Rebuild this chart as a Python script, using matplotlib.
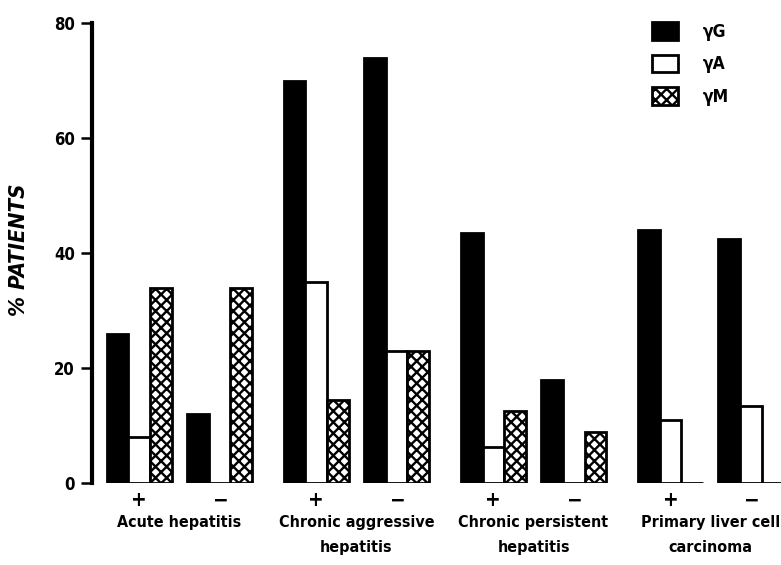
import os
import numpy as np
import matplotlib
matplotlib.use("Agg")
import matplotlib.pyplot as plt
from matplotlib.patches import Patch
from matplotlib import font_manager as fm

groups = ["Acute hepatitis", "Chronic aggressive\nhepatitis",
          "Chronic persistent\nhepatitis", "Primary liver cell\ncarcinoma"]
signs = ["+", "\u2212"]
series = ["\u03b3G", "\u03b3A", "\u03b3M"]

# order: group1 +, group1 -, group2 +, ...
igg = [26, 12, 70, 74, 43.5, 18, 44, 42.5]
iga = [8, 0, 35, 23, 6.3, 0, 11, 13.5]
igm = [34, 34, 14.5, 23, 12.5, 9, 0, 0]


def pick_font(italic=False):
    # narrowest bold face that is around, else Roboto
    for path in sorted(fm.findSystemFonts()):
        name = os.path.basename(path).lower()
        if not ("narrow" in name or "condensed" in name):
            continue
        if "bold" not in name:
            continue
        slanted = "italic" in name or "oblique" in name
        if slanted == italic:
            return path, True
    return None, False


bold_path, narrow = pick_font()
ital_path, _ = pick_font(italic=True)


def fp(size, italic=False):
    path = ital_path if italic else bold_path
    if path:
        return fm.FontProperties(fname=path, size=size)
    return fm.FontProperties(family=["Roboto", "DejaVu Sans"], weight="bold",
                             style="italic" if italic else "normal", size=size)


k = 1.0 if narrow else 0.95
plt.rcParams['hatch.linewidth'] = 1.7

# layout (bar width = 1 unit)
x0 = 2.19
group_step = 8.16
sub_step = 3.7

centers = np.array([x0 + g * group_step + s * sub_step
                    for g in range(len(groups)) for s in range(len(signs))])

fig = plt.figure(figsize=(7.81, 5.65), dpi=100)
ax = fig.add_axes([91.7 / 781, 81.7 / 565, (781 - 91.7) / 781, 460 / 565])

lw = 2.0
ax.bar(centers - 1, igg, width=1, color="black", edgecolor="black", linewidth=lw)
ax.bar(centers, iga, width=1, color="white", edgecolor="black", linewidth=lw)
ax.bar(centers + 1, igm, width=1, color="white", edgecolor="black", linewidth=lw,
       hatch="xxx")

ax.set_xlim(0, (781 - 91.7) / 21.7)
ax.set_ylim(0, 80)
ax.set_yticks([0, 20, 40, 60, 80])
ax.tick_params(axis="y", direction="out", length=8, width=1.8, pad=4)
for lab in ax.get_yticklabels():
    lab.set_fontproperties(fp(12 * k))

ax.set_xticks(centers)
ax.set_xticklabels(signs * len(groups))
for lab in ax.get_xticklabels():
    lab.set_fontproperties(fp(15 * k))
ax.tick_params(axis="x", length=0, pad=5)

for side in ["top", "right", "bottom"]:
    ax.spines[side].set_visible(False)
ax.spines["left"].set_linewidth(3)

for g, name in enumerate(groups):
    cx = (centers[2 * g] + centers[2 * g + 1]) / 2
    ax.annotate(name, xy=(cx, 0), xycoords=("data", "axes fraction"),
                xytext=(0, -23), textcoords="offset points",
                ha="center", va="top", fontproperties=fp(11.5 * k),
                linespacing=1.85, annotation_clip=False)

fig.text(19 / 781, 1 - 250 / 565, "% PATIENTS", rotation=90, ha="center",
         va="center", fontproperties=fp(16 * k, italic=True))

handles = [
    Patch(facecolor="black", edgecolor="black", linewidth=lw),
    Patch(facecolor="white", edgecolor="black", linewidth=lw),
    Patch(facecolor="white", edgecolor="black", linewidth=lw, hatch="xxx"),
]
leg = fig.legend(handles, series, loc="upper left",
                 bbox_to_anchor=(652 / 781, 1 - 22 / 565), frameon=False,
                 prop=fp(12.5 * k), handlelength=1.5, handleheight=1.2,
                 handletextpad=1.4, labelspacing=0.8, borderpad=0,
                 borderaxespad=0)

fig.savefig("out.png", dpi=100)
